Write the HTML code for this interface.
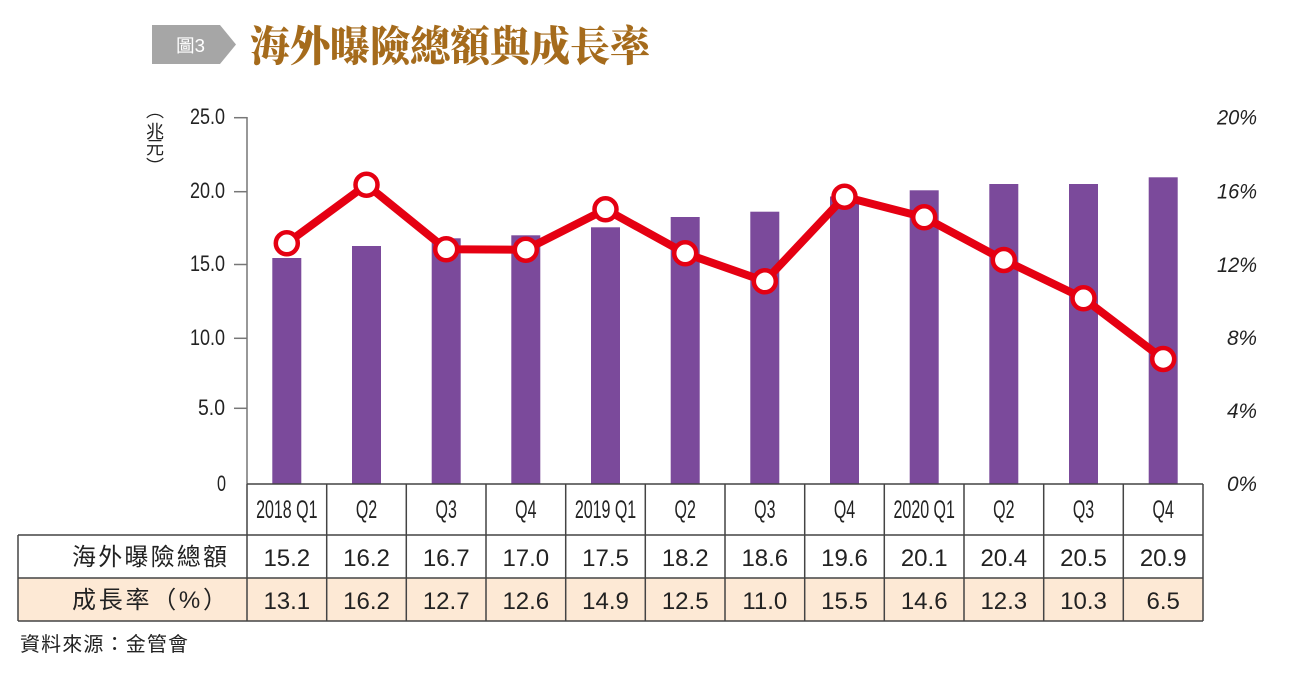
<!DOCTYPE html>
<html><head><meta charset="utf-8"><style>
html,body{margin:0;padding:0;background:#fff;}
svg{display:block;}
</style></head><body>
<svg width="1289" height="674" viewBox="0 0 1289 674" xmlns="http://www.w3.org/2000/svg">
<rect width="1289" height="674" fill="#fff"/>
<!-- Title banner -->
<polygon points="152,25 220,25 236,44.5 220,64 152,64" fill="#a6a6a6"/>
<text x="176" y="52" font-family="Liberation Sans, Noto Sans CJK TC, sans-serif" font-size="18" fill="#fff" textLength="29" lengthAdjust="spacingAndGlyphs">圖3</text>
<text x="250" y="61" font-family="Liberation Serif, Noto Serif CJK SC, serif" font-weight="900" font-size="42" fill="#a56b1c" textLength="400" lengthAdjust="spacingAndGlyphs">海外曝險總額與成長率</text>

<!-- unit label -->
<g font-family="Liberation Sans, Noto Sans CJK TC, sans-serif" font-size="18" fill="#222" text-anchor="middle">
<text x="155" y="117">︵</text>
<text x="155" y="138">兆</text>
<text x="155" y="154">元</text>
<text x="155" y="173">︶</text>
</g>

<!-- left axis -->
<line x1="247" y1="117" x2="247" y2="484" stroke="#777" stroke-width="1.5"/>
<g stroke="#777" stroke-width="1.5">
<line x1="234" y1="117.7" x2="247" y2="117.7"/>
<line x1="234" y1="191.7" x2="247" y2="191.7"/>
<line x1="234" y1="264.5" x2="247" y2="264.5"/>
<line x1="234" y1="338.3" x2="247" y2="338.3"/>
<line x1="234" y1="408.3" x2="247" y2="408.3"/>
</g>
<g font-family="Liberation Sans, sans-serif" font-size="22" fill="#222" text-anchor="end">
<text x="225" y="124" textLength="35" lengthAdjust="spacingAndGlyphs">25.0</text>
<text x="225" y="198" textLength="35" lengthAdjust="spacingAndGlyphs">20.0</text>
<text x="225" y="271" textLength="35" lengthAdjust="spacingAndGlyphs">15.0</text>
<text x="225" y="345" textLength="35" lengthAdjust="spacingAndGlyphs">10.0</text>
<text x="225" y="415" textLength="27" lengthAdjust="spacingAndGlyphs">5.0</text>
<text x="226" y="491" textLength="9" lengthAdjust="spacingAndGlyphs">0</text>
</g>

<!-- right axis labels -->
<g font-family="Liberation Sans, sans-serif" font-size="21" fill="#222" text-anchor="end" font-style="italic">
<text x="1257" y="124.5" textLength="40" lengthAdjust="spacingAndGlyphs">20%</text>
<text x="1257" y="198.5" textLength="40" lengthAdjust="spacingAndGlyphs">16%</text>
<text x="1257" y="272" textLength="40" lengthAdjust="spacingAndGlyphs">12%</text>
<text x="1257" y="345" textLength="30" lengthAdjust="spacingAndGlyphs">8%</text>
<text x="1257" y="418" textLength="30" lengthAdjust="spacingAndGlyphs">4%</text>
<text x="1257" y="491" textLength="30" lengthAdjust="spacingAndGlyphs">0%</text>
</g>

<!-- bars -->
<g fill="#7b4a9b">
<rect x="272.3" y="258" width="29" height="226"/>
<rect x="352" y="246" width="29" height="238"/>
<rect x="431.7" y="238.3" width="29" height="245.7"/>
<rect x="511.3" y="235.3" width="29" height="248.7"/>
<rect x="591" y="227.3" width="29" height="256.7"/>
<rect x="670.7" y="217" width="29" height="267"/>
<rect x="750.3" y="211.7" width="29" height="272.3"/>
<rect x="830" y="196.5" width="29" height="287.5"/>
<rect x="909.7" y="190.3" width="29" height="293.7"/>
<rect x="989.3" y="184" width="29" height="300"/>
<rect x="1069" y="184" width="29" height="300"/>
<rect x="1148.7" y="177.3" width="29" height="306.7"/>
</g>

<!-- line -->
<polyline fill="none" stroke="#e50012" stroke-width="8" stroke-linejoin="round" points="286.8,243.3 366.5,184.7 446.2,249.3 525.8,249.7 605.5,209.3 685.2,253.3 764.8,281.3 844.5,196.7 924.2,217.3 1003.8,260 1083.5,298.3 1163.2,359"/>
<g fill="#fff" stroke="#e50012" stroke-width="4.5">
<circle cx="286.8" cy="243.3" r="11"/>
<circle cx="366.5" cy="184.7" r="11"/>
<circle cx="446.2" cy="249.3" r="11"/>
<circle cx="525.8" cy="249.7" r="11"/>
<circle cx="605.5" cy="209.3" r="11"/>
<circle cx="685.2" cy="253.3" r="11"/>
<circle cx="764.8" cy="281.3" r="11"/>
<circle cx="844.5" cy="196.7" r="11"/>
<circle cx="924.2" cy="217.3" r="11"/>
<circle cx="1003.8" cy="260" r="11"/>
<circle cx="1083.5" cy="298.3" r="11"/>
<circle cx="1163.2" cy="359" r="11"/>
</g>

<!-- table -->
<rect x="18" y="578" width="1185" height="43" fill="#fde9d5"/>
<g stroke="#444" stroke-width="1.5" fill="none">
<line x1="247" y1="484" x2="1203" y2="484"/>
<line x1="18" y1="535" x2="1203" y2="535"/>
<line x1="18" y1="578" x2="1203" y2="578"/>
<line x1="18" y1="621" x2="1203" y2="621"/>
<line x1="18" y1="535" x2="18" y2="621"/>
<line x1="247" y1="484" x2="247" y2="621"/>
<line x1="326.7" y1="484" x2="326.7" y2="621"/>
<line x1="406.3" y1="484" x2="406.3" y2="621"/>
<line x1="486" y1="484" x2="486" y2="621"/>
<line x1="565.7" y1="484" x2="565.7" y2="621"/>
<line x1="645.3" y1="484" x2="645.3" y2="621"/>
<line x1="725" y1="484" x2="725" y2="621"/>
<line x1="804.7" y1="484" x2="804.7" y2="621"/>
<line x1="884.3" y1="484" x2="884.3" y2="621"/>
<line x1="964" y1="484" x2="964" y2="621"/>
<line x1="1043.7" y1="484" x2="1043.7" y2="621"/>
<line x1="1123.3" y1="484" x2="1123.3" y2="621"/>
<line x1="1203" y1="484" x2="1203" y2="621"/>
</g>

<!-- header labels -->
<g font-family="Liberation Sans, sans-serif" font-size="25" fill="#222" text-anchor="middle">
<text transform="translate(286.8,518) scale(0.64,1)">2018 Q1</text>
<text transform="translate(366.5,518) scale(0.64,1)">Q2</text>
<text transform="translate(446.2,518) scale(0.64,1)">Q3</text>
<text transform="translate(525.8,518) scale(0.64,1)">Q4</text>
<text transform="translate(605.5,518) scale(0.64,1)">2019 Q1</text>
<text transform="translate(685.2,518) scale(0.64,1)">Q2</text>
<text transform="translate(764.8,518) scale(0.64,1)">Q3</text>
<text transform="translate(844.5,518) scale(0.64,1)">Q4</text>
<text transform="translate(924.2,518) scale(0.64,1)">2020 Q1</text>
<text transform="translate(1003.8,518) scale(0.64,1)">Q2</text>
<text transform="translate(1083.5,518) scale(0.64,1)">Q3</text>
<text transform="translate(1163.2,518) scale(0.64,1)">Q4</text>
</g>

<!-- row labels -->
<g font-family="Liberation Sans, Noto Sans CJK TC, sans-serif" font-size="24" fill="#222">
<text x="72" y="565" textLength="155">海外曝險總額</text>
<text x="72" y="608" textLength="155">成長率（%）</text>
</g>

<!-- row values -->
<g font-family="Liberation Sans, sans-serif" font-size="24" fill="#222" text-anchor="middle">
<text x="286.8" y="566">15.2</text>
<text x="366.5" y="566">16.2</text>
<text x="446.2" y="566">16.7</text>
<text x="525.8" y="566">17.0</text>
<text x="605.5" y="566">17.5</text>
<text x="685.2" y="566">18.2</text>
<text x="764.8" y="566">18.6</text>
<text x="844.5" y="566">19.6</text>
<text x="924.2" y="566">20.1</text>
<text x="1003.8" y="566">20.4</text>
<text x="1083.5" y="566">20.5</text>
<text x="1163.2" y="566">20.9</text>
<text x="286.8" y="609">13.1</text>
<text x="366.5" y="609">16.2</text>
<text x="446.2" y="609">12.7</text>
<text x="525.8" y="609">12.6</text>
<text x="605.5" y="609">14.9</text>
<text x="685.2" y="609">12.5</text>
<text x="764.8" y="609">11.0</text>
<text x="844.5" y="609">15.5</text>
<text x="924.2" y="609">14.6</text>
<text x="1003.8" y="609">12.3</text>
<text x="1083.5" y="609">10.3</text>
<text x="1163.2" y="609">6.5</text>
</g>

<!-- source -->
<text x="20" y="651" font-family="Liberation Sans, Noto Sans CJK TC, sans-serif" font-size="20" fill="#222" textLength="168">資料來源：金管會</text>
</svg>
</body></html>
